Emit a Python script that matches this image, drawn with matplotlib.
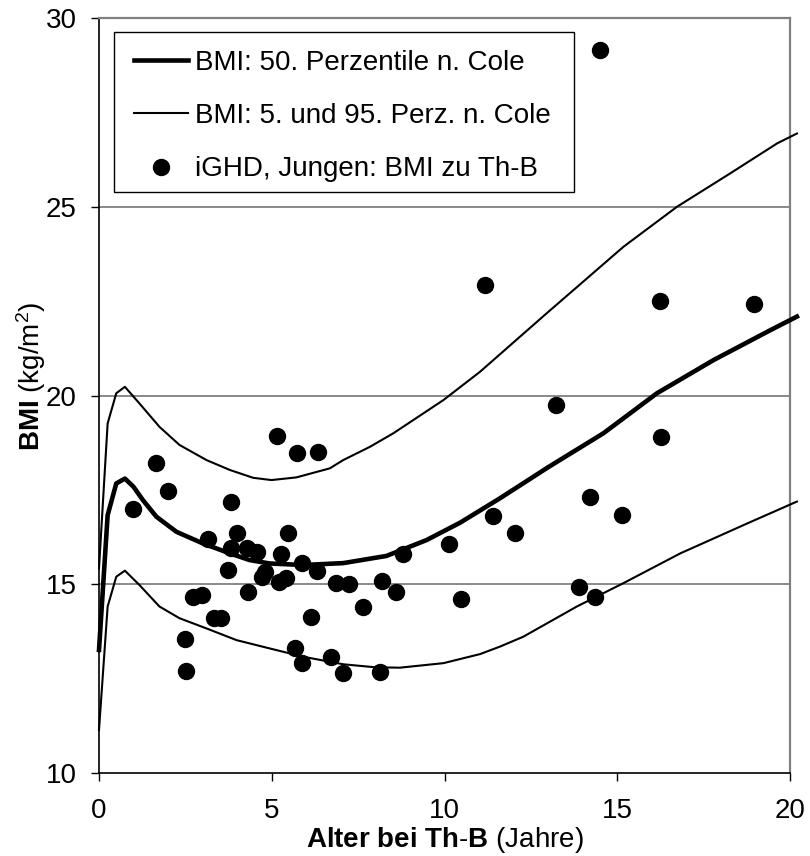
import matplotlib
matplotlib.use("Agg")
import matplotlib.pyplot as plt
from matplotlib.patches import Rectangle
from matplotlib.lines import Line2D

plt.rcParams['font.family'] = ['Liberation Sans', 'DejaVu Sans']
plt.rcParams['mathtext.fontset'] = 'custom'
plt.rcParams['mathtext.rm'] = 'Liberation Sans'
plt.rcParams['mathtext.bf'] = 'Liberation Sans:bold'
plt.rcParams['mathtext.it'] = 'Liberation Sans:italic'

# --- Cole reference percentiles ---
p50_age = [0, 0.25, 0.5, 0.75, 1.0, 1.27, 1.66, 2.24, 3.01, 3.78, 4.36, 4.94, 5.91,
           7.07, 8.32, 9.48, 10.45, 11.61, 13.0, 14.6, 16.15, 17.79, 19.43, 20.2]
p50_bmi = [13.26, 16.83, 17.67, 17.8, 17.58, 17.23, 16.79, 16.39, 16.08, 15.82, 15.64, 15.55, 15.51,
           15.56, 15.75, 16.17, 16.63, 17.28, 18.1, 19.0, 20.06, 20.94, 21.73, 22.09]

p95_age = [0, 0.25, 0.5, 0.75, 1.17, 1.75, 2.33, 3.11, 3.78, 4.46, 4.99, 5.71, 6.68,
           7.07, 7.84, 8.52, 9.97, 11.03, 12.96, 15.18, 16.73, 18.28, 19.63, 20.2]
p95_bmi = [15.42, 19.26, 20.06, 20.23, 19.79, 19.17, 18.69, 18.29, 18.03, 17.82, 17.76, 17.83, 18.07,
           18.29, 18.64, 19.0, 19.88, 20.63, 22.18, 23.94, 25.0, 25.89, 26.68, 26.94]

p5_age = [0, 0.25, 0.5, 0.75, 1.17, 1.75, 2.33, 3.11, 3.98, 4.94, 5.91, 7.07, 8.0,
          8.71, 9.97, 11.03, 11.61, 12.28, 13.83, 15.18, 16.83, 18.76, 20.2]
p5_bmi = [11.14, 14.41, 15.2, 15.36, 14.98, 14.41, 14.10, 13.83, 13.52, 13.30, 13.08, 12.88, 12.80,
          12.79, 12.91, 13.15, 13.35, 13.61, 14.41, 15.03, 15.82, 16.61, 17.19]

# --- iGHD boys: BMI at start of therapy ---
pat_age = [5.16, 5.74, 6.35, 1.66, 2.01, 0.99, 3.83, 3.15, 4.00, 5.48, 3.83, 4.27, 4.58, 5.28,
           5.88, 6.32, 3.72, 4.80, 4.71, 5.41, 5.21, 6.86, 7.24, 7.65, 4.30, 2.72, 2.98, 3.32,
           3.54, 6.13, 2.48, 2.53, 5.66, 5.88, 6.71, 7.07, 8.20, 8.59, 8.79, 10.14, 11.39, 10.47,
           8.14, 14.51, 11.17, 16.25, 18.97, 13.23, 16.27, 14.22, 15.14, 12.04, 13.89, 14.37]
pat_bmi = [18.93, 18.48, 18.50, 18.20, 17.46, 17.00, 17.18, 16.19, 16.37, 16.37, 15.97, 15.95, 15.86, 15.80,
           15.57, 15.34, 15.38, 15.32, 15.20, 15.16, 15.07, 15.04, 15.01, 14.39, 14.80, 14.65, 14.72, 14.11,
           14.11, 14.12, 13.55, 12.71, 13.32, 12.91, 13.07, 12.64, 15.09, 14.79, 15.80, 16.07, 16.82, 14.60,
           12.68, 29.15, 22.93, 22.50, 22.42, 19.75, 18.89, 17.32, 16.83, 16.37, 14.94, 14.65]

xticks = [0, 5, 10, 15, 20]
yticks = [10, 15, 20, 25, 30]
legend_labels = ["BMI: 50. Perzentile n. Cole", "BMI: 5. und 95. Perz. n. Cole",
                 "iGHD, Jungen: BMI zu Th-B"]

FS = 20
fig = plt.figure(figsize=(8.1, 8.56), dpi=100)
ax = fig.add_axes([99/810, 1-773/856, 691/810, 755/856])
ax.set_xlim(0, 20)
ax.set_ylim(10, 30)

for yv in [15, 20, 25]:
    ax.axhline(yv, color='#808080', lw=1.3, zorder=1)

ax.plot(p95_age, p95_bmi, color='black', lw=1.5, zorder=3, clip_on=False)
ax.plot(p5_age, p5_bmi, color='black', lw=1.5, zorder=3, clip_on=False)
ax.plot(p50_age, p50_bmi, color='black', lw=3.3, zorder=3, clip_on=False)
ax.plot(pat_age, pat_bmi, 'o', color='black', ms=11.5, mec='black', zorder=4, clip_on=False)

for s in ['top', 'right']:
    ax.spines[s].set_color('#808080')
    ax.spines[s].set_linewidth(1.6)
for s in ['left', 'bottom']:
    ax.spines[s].set_color('black')
    ax.spines[s].set_linewidth(1.2)

ax.set_xticks(xticks)
ax.set_yticks(yticks)
ax.tick_params(axis='x', direction='out', length=6, width=1, labelsize=FS, pad=12)
ax.tick_params(axis='y', direction='out', length=6, width=1, labelsize=FS, pad=10)

fig.text(445/810, 1-847/856, r"$\mathbf{Alter\ bei\ Th}$-$\mathbf{B}$ (Jahre)",
         fontsize=FS, ha='center', va='baseline')
fig.text(39.5/810, 1-376/856, r"$\mathbf{BMI}$ (kg/m$^{2}$)", fontsize=FS,
         rotation=90, rotation_mode='anchor', ha='center', va='baseline')

# legend frame
x0, x1 = (114-99)/691, (574-99)/691
y1, y0 = 1-(32-18)/755, 1-(192-18)/755
ax.add_patch(Rectangle((x0, y0), x1-x0, y1-y0, transform=ax.transAxes,
                       facecolor='white', edgecolor='black', lw=1.0, zorder=5))
handles = [Line2D([], [], color='black', lw=3.3),
           Line2D([], [], color='black', lw=1.5),
           Line2D([], [], marker='o', ls='none', color='black', ms=11.5)]
leg = ax.legend(handles, legend_labels, loc='upper left',
                bbox_to_anchor=((134-99)/691, 1-(50-18)/755), frameon=False,
                fontsize=FS, borderpad=0, borderaxespad=0, handlelength=1.95,
                handletextpad=0.25, labelspacing=0.98, numpoints=1)
leg.set_zorder(6)

fig.savefig("out.png", dpi=100)
